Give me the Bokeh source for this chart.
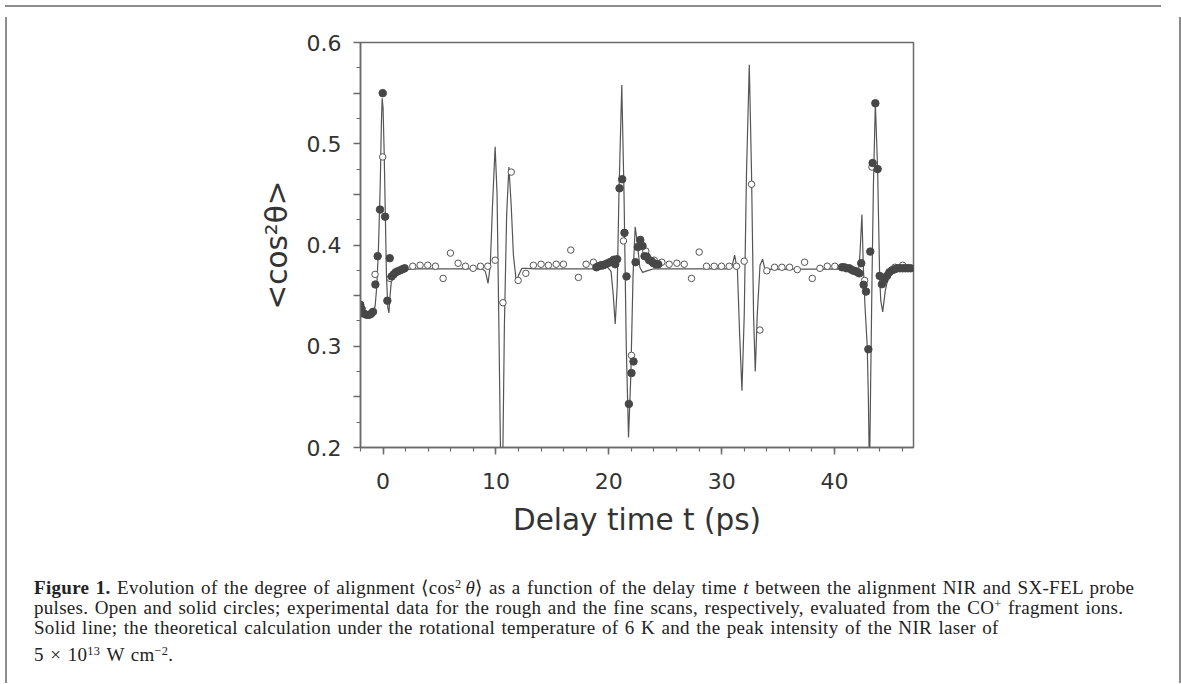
from bokeh.plotting import figure
from bokeh.models import Range1d, SingleIntervalTicker, FixedTicker, CustomJSTickFormatter, Div
from bokeh.layouts import column, row
from bokeh.embed import file_html
from bokeh.resources import INLINE

# ---- theoretical curve (delay time in ps, <cos^2 theta>) ----
theory_t = [-2.0, -1.6, -1.2, -0.9, -0.7, -0.55, -0.4, -0.25, -0.15, -0.08, 0.0, 0.1, 0.2, 0.3,
            0.42, 0.52, 0.62, 0.75, 0.9, 1.2, 1.6, 2.2, 3.0, 8.8, 9.05, 9.15, 9.3, 9.5, 9.7,
            9.93, 10.1, 10.25, 10.4, 10.5, 10.62, 10.75, 10.95, 11.15, 11.35, 11.55, 11.8,
            12.0, 12.3, 12.7, 13.5, 19.5, 19.9, 20.2, 20.4, 20.57, 20.75, 20.9, 21.15, 21.35,
            21.55, 21.75, 21.95, 22.15, 22.34, 22.55, 22.75, 23.0, 23.5, 24.0, 30.6, 30.9,
            31.15, 31.4, 31.6, 31.8, 32.0, 32.2, 32.45, 32.65, 32.83, 32.98, 33.15, 33.4,
            33.63, 33.85, 34.2, 41.6, 41.9, 42.1, 42.25, 42.43, 42.55, 42.7, 42.9, 43.0,
            43.1, 43.2, 43.32, 43.45, 43.62, 43.82, 44.0, 44.1, 44.27, 44.5, 44.8, 45.3,
            46.0, 47.0]
theory_v = [0.334, 0.331, 0.330, 0.332, 0.340, 0.360, 0.400, 0.460, 0.520, 0.545, 0.535, 0.490,
            0.430, 0.370, 0.338, 0.333, 0.350, 0.366, 0.370, 0.372, 0.374, 0.376, 0.3765,
            0.3765, 0.374, 0.370, 0.362, 0.380, 0.440, 0.497, 0.450, 0.330, 0.200, 0.160,
            0.200, 0.320, 0.430, 0.477, 0.440, 0.390, 0.364, 0.370, 0.377, 0.377, 0.3765,
            0.3765, 0.378, 0.374, 0.350, 0.322, 0.360, 0.450, 0.558, 0.450, 0.300, 0.210,
            0.270, 0.370, 0.418, 0.400, 0.378, 0.373, 0.375, 0.3765, 0.3765, 0.378, 0.390,
            0.375, 0.310, 0.256, 0.330, 0.470, 0.578, 0.470, 0.330, 0.275, 0.330, 0.380,
            0.386, 0.375, 0.376, 0.3765, 0.374, 0.372, 0.390, 0.430, 0.380, 0.340, 0.300,
            0.250, 0.170, 0.260, 0.364, 0.460, 0.540, 0.475, 0.3695, 0.345, 0.334, 0.355,
            0.370, 0.375, 0.376, 0.3765]

# ---- rough scan (open circles) ----
open_t = [-2.0, -0.71, -0.03, 0.62, 2.63, 3.28, 3.96, 4.64, 5.32, 5.97, 6.65, 7.30, 7.98, 8.63,
          9.28, 9.93, 10.62, 11.36, 11.97, 12.65, 13.32, 14.00, 14.65, 15.34, 15.98, 16.63,
          17.31, 17.99, 18.64, 21.30, 22.01, 23.28, 24.02, 24.70, 25.35, 26.03, 26.68, 27.33,
          28.01, 28.66, 29.34, 29.99, 30.67, 31.32, 32.00, 32.65, 33.39, 34.00, 34.69, 35.34,
          36.02, 36.70, 37.35, 38.03, 38.71, 39.36, 40.03, 42.67, 43.32, 45.35, 46.04]
open_v = [0.332, 0.371, 0.487, 0.367, 0.379, 0.380, 0.380, 0.379, 0.367, 0.392, 0.382, 0.379,
          0.377, 0.379, 0.379, 0.385, 0.343, 0.472, 0.365, 0.372, 0.380, 0.381, 0.380, 0.381,
          0.381, 0.395, 0.368, 0.381, 0.383, 0.404, 0.291, 0.394, 0.385, 0.383, 0.381, 0.382,
          0.381, 0.367, 0.393, 0.379, 0.379, 0.379, 0.379, 0.379, 0.384, 0.460, 0.316, 0.3745,
          0.378, 0.378, 0.378, 0.3757, 0.383, 0.367, 0.377, 0.379, 0.379, 0.365, 0.477, 0.378,
          0.380]

# ---- fine scan (solid circles) ----
solid_t = [-2.02, -1.9, -1.66, -1.45, -1.24, -1.06, -0.89, -0.68, -0.48, -0.27, -0.03, 0.18,
           0.38, 0.59, 0.76, 0.94, 1.12, 1.29, 1.51, 1.71, 1.91,
           18.9, 19.1, 19.3, 19.5, 19.7, 19.9, 20.1, 20.3, 20.45, 20.57, 20.74, 20.95, 21.19,
           21.39, 21.57, 21.78, 22.01, 22.19, 22.37, 22.57, 22.79, 22.99, 23.17, 23.37, 23.58,
           23.79, 23.96, 24.17, 24.38,
           40.66, 40.87, 41.07, 41.31, 41.52, 41.69, 41.90, 42.05, 42.2, 42.37, 42.58, 42.79,
           43.0, 43.17, 43.38, 43.62, 43.82, 44.0, 44.2, 44.44, 44.65, 44.86, 45.09, 45.33,
           45.57, 45.8, 46.04, 46.28, 46.51, 46.75]
solid_v = [0.341, 0.337, 0.332, 0.331, 0.331, 0.332, 0.334, 0.361, 0.389, 0.435, 0.550, 0.428,
           0.345, 0.387, 0.369, 0.371, 0.373, 0.374, 0.375, 0.376, 0.377,
           0.378, 0.379, 0.380, 0.380, 0.381, 0.382, 0.383, 0.384, 0.3855, 0.381, 0.386, 0.456,
           0.465, 0.412, 0.369, 0.243, 0.2735, 0.285, 0.383, 0.398, 0.405, 0.399, 0.389,
           0.3885, 0.385, 0.384, 0.382, 0.381, 0.381,
           0.378, 0.378, 0.377, 0.377, 0.3755, 0.3745, 0.374, 0.373, 0.372, 0.382, 0.3607,
           0.354, 0.297, 0.3935, 0.481, 0.540, 0.475, 0.3695, 0.3613, 0.366, 0.3695, 0.373,
           0.375, 0.376, 0.377, 0.377, 0.377, 0.377, 0.377, 0.377]

# ---- axis ticks ----
y_ticks = [0.2, 0.25, 0.3, 0.35, 0.4, 0.45, 0.5, 0.55, 0.6]
y_minor = [0.225, 0.275, 0.325, 0.375, 0.425, 0.475, 0.525, 0.575]

FONT = "DejaVu Sans"
AXC = "#6a6a6a"
TXT = "#333333"
BORDER = "#8c8c8c"

p = figure(width=1152, height=527, x_range=Range1d(-2, 47), y_range=Range1d(0.2, 0.6),
           output_backend="svg", toolbar_location=None,
           min_border_left=348, min_border_right=251, min_border_top=30, min_border_bottom=90,
           background_fill_color="white", border_fill_color="white")
p.grid.visible = False
p.outline_line_color = AXC
p.outline_line_width = 1.5

p.line(theory_t, theory_v, line_color="#555555", line_width=1.2)
p.scatter(open_t, open_v, marker="circle", size=6.5, fill_color="white",
          line_color="#555555", line_width=1)
p.scatter(solid_t, solid_v, marker="circle", size=7.5, fill_color="#474747",
          line_color="#474747", line_width=1)

p.xaxis.ticker = SingleIntervalTicker(interval=10, num_minor_ticks=5)
p.yaxis.ticker = FixedTicker(ticks=y_ticks, minor_ticks=y_minor)
p.yaxis.formatter = CustomJSTickFormatter(
    code="return (Math.round(tick*100) % 10 == 0) ? tick.toFixed(1) : '';")

for ax in (p.xaxis[0], p.yaxis[0]):
    ax.axis_line_color = AXC
    ax.axis_line_width = 1.5
    ax.major_tick_line_color = AXC
    ax.minor_tick_line_color = AXC
    ax.major_tick_line_width = 1.5
    ax.minor_tick_line_width = 1.2
    ax.major_tick_in = 0
    ax.major_tick_out = 7
    ax.minor_tick_in = 0
    ax.minor_tick_out = 4
    ax.major_label_text_font = FONT
    ax.major_label_text_font_size = "22px"
    ax.major_label_text_color = TXT
    ax.axis_label_text_font = FONT
    ax.axis_label_text_font_size = "29.5px"
    ax.axis_label_text_font_style = "normal"
    ax.axis_label_text_color = TXT

p.xaxis.axis_label = "Delay time t (ps)"
p.xaxis.major_label_standoff = 18
p.xaxis.axis_label_standoff = 11
p.yaxis.axis_label = "<cos²θ>"
p.yaxis.major_label_standoff = 12
p.yaxis.axis_label_standoff = 10

SUP = "<sup style='font-size:65%;line-height:0;vertical-align:6px'>"
line_style = "height:20px;line-height:20px;"
caption_html = (
    f"<div style='{line_style}'><b>Figure 1.</b> Evolution of the degree of alignment "
    f"\u27e8cos{SUP}2</sup>&thinsp;<i>\u03b8</i>\u27e9 as a function of the delay time "
    f"<i>t</i> between the alignment NIR and SX-FEL probe</div>"
    f"<div style='{line_style}'>pulses. Open and solid circles; experimental data for the "
    f"rough and the fine scans, respectively, evaluated from the CO{SUP}+</sup> fragment ions.</div>"
    f"<div style='{line_style}'>Solid line; the theoretical calculation under the rotational "
    f"temperature of 6 K and the peak intensity of the NIR laser of</div>"
    f"<div style='{line_style}margin-top:7px'>5 \u00d7 10{SUP}13</sup> W cm{SUP}\u22122</sup>.</div>"
)
cap = Div(text=caption_html, width=1152, height=139,
          styles={"font-family": "'Liberation Serif', serif", "font-size": "19px",
                  "letter-spacing": "0.3px", "word-spacing": "1.4px",
                  "color": "#222222", "white-space": "nowrap",
                  "padding-left": "17px", "padding-top": "34px", "box-sizing": "border-box"})

top_bar = Div(text="", width=1156, height=2, styles={"background-color": BORDER})
left_bar = Div(text="", width=2, height=666, styles={"background-color": BORDER})
right_bar = Div(text="", width=2, height=666, styles={"background-color": BORDER})

layout = column(top_bar, row(left_bar, column(p, cap, spacing=0), right_bar, spacing=0),
                spacing=0)

open("out.html", "w").write(file_html(layout, INLINE))
